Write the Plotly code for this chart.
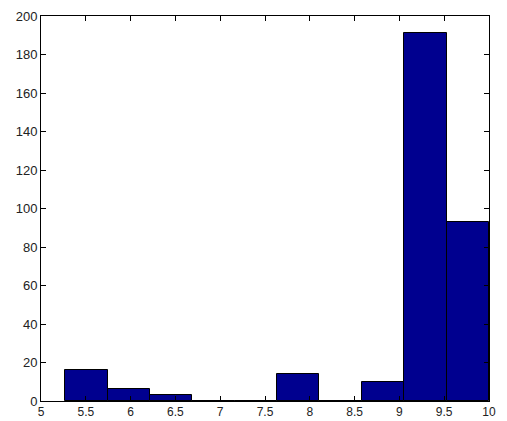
import plotly.graph_objects as go

# Histogram data
bin_edges = [5.27, 5.743, 6.216, 6.689, 7.162, 7.635, 8.108, 8.581, 9.054, 9.527, 10.0]
counts = [16, 6, 3, 0, 0, 14, 0, 10, 191, 93]
x_ticks = [5, 5.5, 6, 6.5, 7, 7.5, 8, 8.5, 9, 9.5, 10]
x_tick_labels = ["5", "5.5", "6", "6.5", "7", "7.5", "8", "8.5", "9", "9.5", "10"]
y_ticks = [0, 20, 40, 60, 80, 100, 120, 140, 160, 180, 200]

centers = [(a + b) / 2 for a, b in zip(bin_edges[:-1], bin_edges[1:])]
widths = [b - a for a, b in zip(bin_edges[:-1], bin_edges[1:])]

fig = go.Figure(
    go.Bar(
        x=centers,
        y=counts,
        width=widths,
        marker=dict(color="rgb(0,0,143)", line=dict(color="black", width=1)),
    )
)

axis_common = dict(
    showline=True,
    linecolor="black",
    linewidth=1,
    mirror="ticks",
    ticks="inside",
    ticklen=5,
    tickcolor="black",
    showgrid=False,
    zeroline=False,
)

fig.update_layout(
    width=499,
    height=413,
    margin=dict(l=33, r=18, t=8, b=20),
    paper_bgcolor="white",
    plot_bgcolor="white",
    showlegend=False,
    bargap=0,
    xaxis=dict(range=[5, 10], tickvals=x_ticks, ticktext=x_tick_labels, automargin=False,
               tickfont=dict(family="Liberation Sans, Arial, sans-serif", size=12, color="#222"),
               **axis_common),
    yaxis=dict(range=[0, 200], tickvals=y_ticks, automargin=False,
               tickfont=dict(family="Liberation Sans, Arial, sans-serif", size=13, color="#222"),
               **axis_common),
)

fig.write_html("out.html")
